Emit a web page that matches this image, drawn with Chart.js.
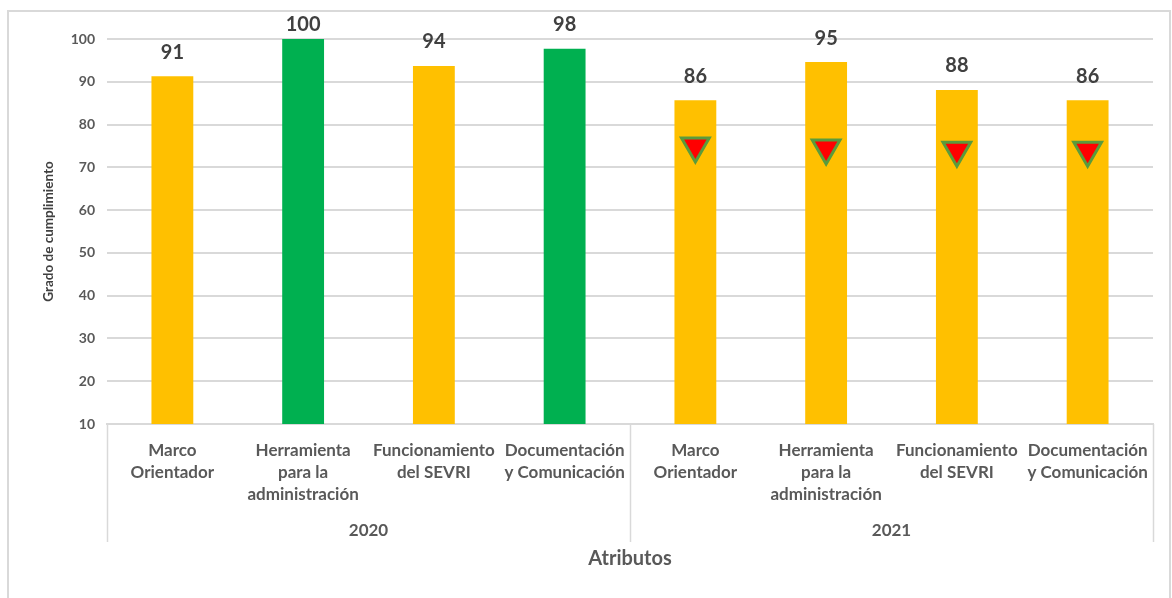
<!DOCTYPE html>
<html lang="es">
<head>
    <meta charset="UTF-8">
    <title>Grado de cumplimiento</title>
    <script src="https://cdn.jsdelivr.net/npm/chart.js"></script>
    <style>
        body { margin: 0; background: #fff; }
        #wrap { position: relative; width: 1172px; height: 598px; overflow: hidden; }
        #frame { position: absolute; left: 7px; top: 10px; width: 1160px; height: 600px; border: 2px solid #d9d9d9; }
        #myChart { position: absolute; left: 0; top: 0; }
    </style>
</head>
<body>
    <div id="wrap">
        <div id="frame"></div>
        <canvas id="myChart" width="1172" height="598"></canvas>
    </div>

    <script>
        // datos
        const categorias = [
            ['Marco', 'Orientador'],
            ['Herramienta', 'para la', 'administración'],
            ['Funcionamiento', 'del SEVRI'],
            ['Documentación', 'y Comunicación'],
            ['Marco', 'Orientador'],
            ['Herramienta', 'para la', 'administración'],
            ['Funcionamiento', 'del SEVRI'],
            ['Documentación', 'y Comunicación']
        ];
        const anios = ['2020', '2021'];
        const porAnio = 4; // categorias en cada año
        const cumplimiento = [91.3, 100, 93.7, 97.7, 85.7, 94.6, 88.1, 85.7];
        const alertas = [null, null, null, null, 75, 74.5, 74, 74]; // triangulos rojos
        const coloresBarra = ['#FFC000', '#00B050', '#FFC000', '#00B050', '#FFC000', '#FFC000', '#FFC000', '#FFC000'];
        const yTicks = { min: 10, max: 100, step: 10 };

        const gris = '#595959';
        const fuente = 'Lato, "Open Sans", sans-serif';

        // etiquetas de valor encima de las barras
        const etiquetasValor = {
            id: 'etiquetasValor',
            afterDatasetsDraw(chart) {
                const ctx = chart.ctx;
                const meta = chart.getDatasetMeta(0);
                ctx.save();
                ctx.font = 'bold 20px ' + fuente;
                ctx.fillStyle = '#404040';
                ctx.textAlign = 'center';
                ctx.textBaseline = 'middle';
                meta.data.forEach((bar, i) => {
                    const y = Math.max(bar.y - 24, 25);
                    ctx.fillText(Math.round(cumplimiento[i]), bar.x, y);
                });
                ctx.restore();
            }
        };

        // eje de dos niveles: años y lineas separadoras
        const ejeAnios = {
            id: 'ejeAnios',
            afterDraw(chart) {
                const ctx = chart.ctx;
                const x = chart.scales.x;
                const area = chart.chartArea;
                const bordes = [area.left];
                for (let g = 1; g < anios.length; g++) {
                    bordes.push((x.getPixelForValue(g * porAnio - 1) + x.getPixelForValue(g * porAnio)) / 2);
                }
                bordes.push(area.right);
                ctx.save();
                ctx.strokeStyle = '#d9d9d9';
                ctx.lineWidth = 1.5;
                bordes.forEach(bx => {
                    ctx.beginPath();
                    ctx.moveTo(Math.round(bx) + 0.5, area.bottom);
                    ctx.lineTo(Math.round(bx) + 0.5, 542);
                    ctx.stroke();
                });
                ctx.font = 'bold 17px ' + fuente;
                ctx.fillStyle = gris;
                ctx.textAlign = 'center';
                ctx.textBaseline = 'middle';
                anios.forEach((a, g) => {
                    ctx.fillText(a, (bordes[g] + bordes[g + 1]) / 2, 531);
                });
                ctx.restore();
            }
        };

        const ctx = document.querySelector('#myChart');

        new Chart(ctx, {
            type: 'bar',
            data: {
                labels: categorias,
                datasets: [
                    {
                        label: 'Grado de cumplimiento',
                        data: cumplimiento,
                        backgroundColor: coloresBarra,
                        barPercentage: 0.32,
                        categoryPercentage: 1,
                        order: 2
                    },
                    {
                        label: 'Alerta',
                        type: 'line',
                        data: alertas,
                        showLine: false,
                        pointStyle: 'triangle',
                        rotation: 180,
                        pointRadius: 16,
                        pointHoverRadius: 16,
                        backgroundColor: '#FF0000',
                        borderColor: '#5A9B3C',
                        borderWidth: 3,
                        order: 1
                    }
                ]
            },
            options: {
                responsive: false,
                animation: false,
                layout: { padding: { left: 0, top: 39, right: 17, bottom: 0 } },
                plugins: {
                    legend: { display: false },
                    tooltip: { enabled: false }
                },
                scales: {
                    x: {
                        grid: { display: false },
                        border: { display: true, color: '#d9d9d9', width: 2 },
                        ticks: {
                            autoSkip: false,
                            maxRotation: 0,
                            minRotation: 0,
                            padding: 7,
                            color: gris,
                            font: { family: fuente, size: 17, weight: 'bold', lineHeight: 1.3 }
                        },
                        title: {
                            display: true,
                            text: 'Atributos',
                            color: gris,
                            padding: { top: 0, bottom: 27 },
                            font: { family: fuente, size: 20, weight: 'bold' }
                        },
                        afterFit(scale) { scale.height = 174; }
                    },
                    y: {
                        min: yTicks.min,
                        max: yTicks.max,
                        border: { display: false },
                        grid: { color: '#d9d9d9', lineWidth: 2, drawTicks: false },
                        ticks: {
                            stepSize: yTicks.step,
                            padding: 12,
                            color: gris,
                            font: { family: fuente, size: 14, weight: 'bold' }
                        },
                        title: {
                            display: true,
                            text: 'Grado de cumplimiento',
                            color: '#404040',
                            padding: { top: 41, bottom: 0 },
                            font: { family: fuente, size: 13.5, weight: 'bold' }
                        },
                        afterFit(scale) { scale.width = 107; }
                    }
                }
            },
            plugins: [etiquetasValor, ejeAnios]
        });
    </script>
</body>
</html>
